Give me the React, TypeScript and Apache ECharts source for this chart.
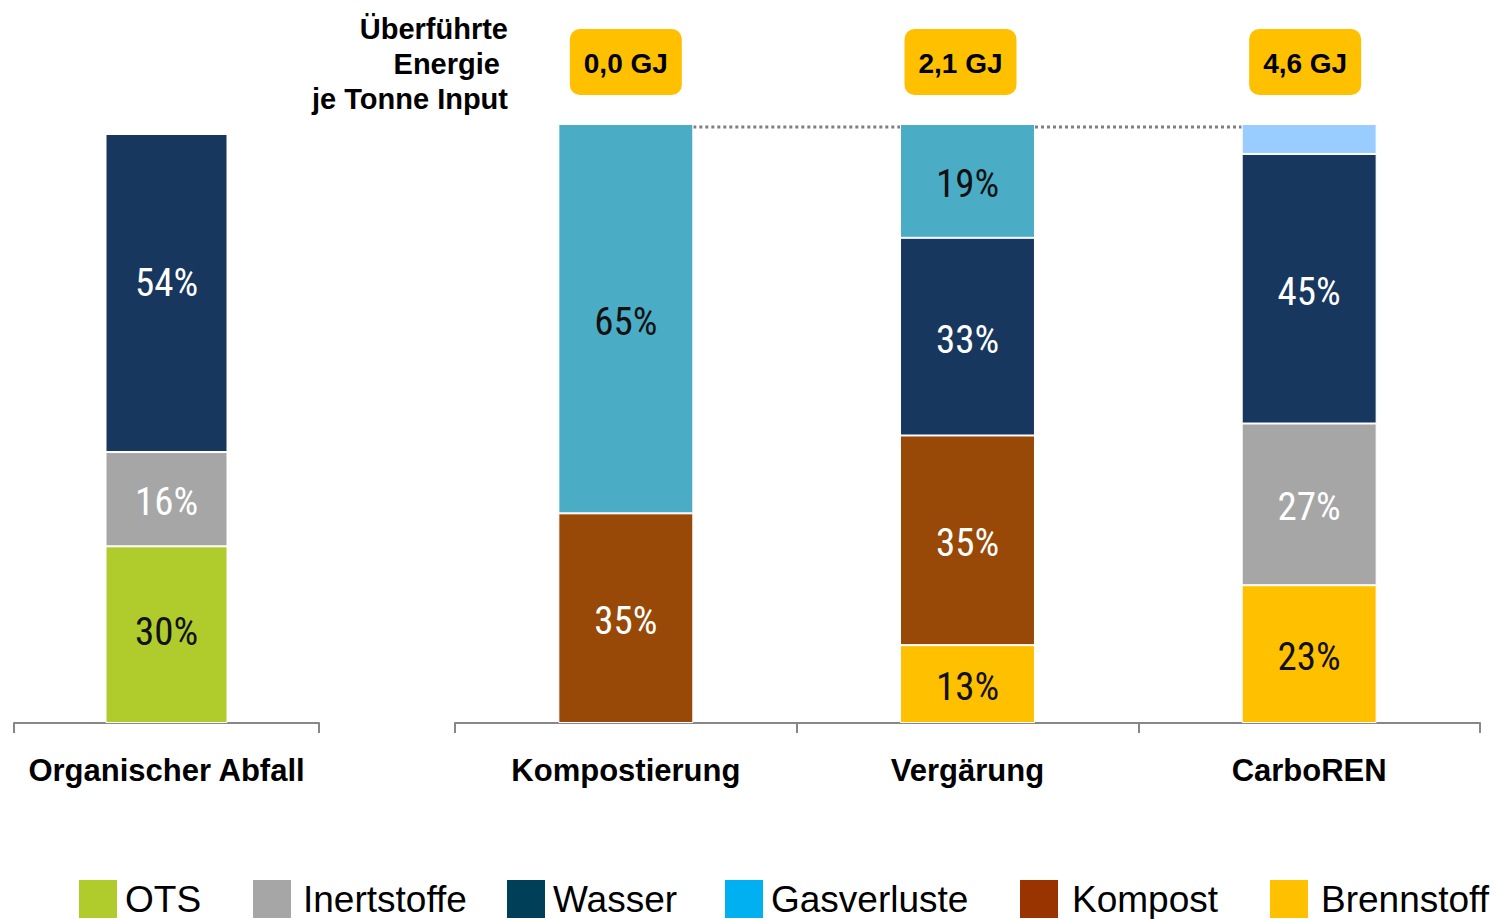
import React, { useEffect, useRef } from "react";
import * as echarts from "echarts";

const LEFT_CATEGORIES = ["Organischer Abfall"];
const RIGHT_CATEGORIES = ["Kompostierung", "Vergärung", "CarboREN"];

// left bar (Organischer Abfall)
const LEFT_OTS = [30];
const LEFT_INERT = [16];
const LEFT_WASSER = [54];

// right bars: Kompostierung, Vergärung, CarboREN
const RIGHT_BRENNSTOFF = [null, 13, 23];
const RIGHT_INERT = [null, null, 27];
const RIGHT_KOMPOST = [35, 35, null];
const RIGHT_WASSER = [null, 33, 45];
const RIGHT_GAS = [65, 19, 5];

const ENERGY_LABELS = ["0,0 GJ", "2,1 GJ", "4,6 GJ"];
const ENERGY_BOX_DX = [0, -7, -4];
const ENERGY_TITLE = "Überführte\nEnergie \nje Tonne Input";

const LEGEND_NAMES = ["OTS", "Inertstoffe", "Wasser", "Gasverluste", "Kompost", "Brennstoff"];
const LEGEND_COLORS = ["#AFCB2C", "#A6A6A6", "#003F58", "#00B0F0", "#993300", "#FFC000"];
const LEGEND_LEFT = [77, 251, 505, 723, 1018, 1268];
const LEGEND_TEXT_GAP = [2, 6, 2, 2, 8, 7];

const BAR_COLORS: Record<string, string> = {
  OTS: "#AFCB2C",
  Inertstoffe: "#A6A6A6",
  Wasser: "#17375E",
  Gasverluste: "#4BACC6",
  Kompost: "#984807",
  Brennstoff: "#FFC000",
};
const GAS_CARBOREN_COLOR = "#99CCFF";

const LABEL_COLORS: Record<string, string> = {
  OTS: "#111",
  Inertstoffe: "#fff",
  Wasser: "#fff",
  Gasverluste: "#111",
  Kompost: "#fff",
  Brennstoff: "#111",
};

const PCT_FONT = "'Liberation Sans Narrow', 'Arial Narrow', 'Roboto Condensed', sans-serif";
const MAIN_FONT = "'Liberation Sans', Arial, sans-serif";

function barSeries(name: string, values: any[], axis: number, stack: string, barWidth: string) {
  return {
    type: "bar",
    name,
    stack,
    xAxisIndex: axis,
    yAxisIndex: axis,
    barWidth,
    itemStyle: { color: BAR_COLORS[name], borderColor: "#fff", borderWidth: 1 },
    label: {
      show: true,
      position: "inside",
      formatter: "{c}%",
      color: LABEL_COLORS[name],
      fontFamily: PCT_FONT,
      fontSize: 39,
      fontWeight: "normal",
      offset: [0, 3],
    },
    data: values.map((v) => (v === null ? "-" : v)),
  };
}

export default function App() {
  const ref = useRef<HTMLDivElement>(null);
  useEffect(() => {
    if (!ref.current) return;
    const chart = echarts.init(ref.current, null, { renderer: "svg" });

    const gasData = RIGHT_GAS.map((v, i) =>
      i === 2
        ? { value: v, itemStyle: { color: GAS_CARBOREN_COLOR }, label: { show: false } }
        : v
    );
    const leftOts = LEFT_OTS.map((v) => ({ value: v, label: { offset: [0, -3] } }));
    const leftWasser = LEFT_WASSER.map((v) => ({ value: v, label: { offset: [0, -10] } }));

    const axisCommon = {
      type: "category",
      axisLine: { show: true, lineStyle: { color: "#878787", width: 2 } },
      axisTick: { show: true, length: 10, lineStyle: { color: "#878787", width: 2 } },
      axisLabel: {
        color: "#000",
        fontSize: 31,
        fontWeight: "bold",
        fontFamily: MAIN_FONT,
        margin: 32,
      },
    };

    const option: any = {
      animation: false,
      grid: [
        { left: 14, width: 305, top: 134, bottom: 196 },
        { left: 455, right: 14, top: 124, bottom: 196 },
      ],
      xAxis: [
        { ...axisCommon, gridIndex: 0, data: LEFT_CATEGORIES },
        { ...axisCommon, gridIndex: 1, data: RIGHT_CATEGORIES },
      ],
      yAxis: [
        { type: "value", gridIndex: 0, min: 0, max: 100, show: false },
        { type: "value", gridIndex: 1, min: 0, max: 100, show: false },
      ],
      legend: LEGEND_NAMES.map((n, i) => ({
        data: [{ name: n, itemStyle: { color: LEGEND_COLORS[i] } }],
        left: LEGEND_LEFT[i],
        top: 878,
        itemWidth: 40,
        itemHeight: 40,
        icon: "rect",
        selectedMode: false,
        textStyle: {
          fontSize: 37,
          color: "#000",
          fontFamily: MAIN_FONT,
          padding: [0, 0, 0, LEGEND_TEXT_GAP[i]],
        },
        padding: 0,
      })),
      graphic: [
        {
          type: "text",
          style: {
            text: ENERGY_TITLE,
            x: 508,
            y: 11,
            textAlign: "right",
            textVerticalAlign: "top",
            fontSize: 29,
            fontWeight: "bold",
            fontFamily: MAIN_FONT,
            lineHeight: 35,
            fill: "#000",
          },
        },
      ],
      series: [
        { ...barSeries("OTS", LEFT_OTS, 0, "left", "40%"), data: leftOts },
        barSeries("Inertstoffe", LEFT_INERT, 0, "left", "40%"),
        { ...barSeries("Wasser", LEFT_WASSER, 0, "left", "40%"), data: leftWasser },
        barSeries("Brennstoff", RIGHT_BRENNSTOFF, 1, "right", "39.5%"),
        barSeries("Inertstoffe", RIGHT_INERT, 1, "right", "39.5%"),
        barSeries("Kompost", RIGHT_KOMPOST, 1, "right", "39.5%"),
        barSeries("Wasser", RIGHT_WASSER, 1, "right", "39.5%"),
        { ...barSeries("Gasverluste", RIGHT_GAS, 1, "right", "39.5%"), data: gasData },
        {
          type: "custom",
          name: "connectors",
          xAxisIndex: 1,
          yAxisIndex: 1,
          clip: false,
          silent: true,
          encode: { x: 0, y: 1 },
          data: [
            [0, 100],
            [1, 100],
          ],
          renderItem: (params: any, api: any) => {
            const i = api.value(0);
            const p1 = api.coord([i, 100]);
            const p2 = api.coord([i + 1, 100]);
            const half = (api.size([1, 0])[0] * 0.395) / 2;
            return {
              type: "line",
              shape: { x1: p1[0] + half, y1: p1[1] + 3, x2: p2[0] - half, y2: p2[1] + 3 },
              style: { stroke: "#7F7F7F", lineWidth: 3, lineDash: [3, 3] },
            };
          },
        },
        {
          type: "custom",
          name: "energy",
          xAxisIndex: 1,
          yAxisIndex: 1,
          clip: false,
          silent: true,
          encode: { x: 0, y: 1 },
          data: ENERGY_LABELS.map((_, i) => [i, 100]),
          renderItem: (params: any, api: any) => {
            const p = api.coord([api.value(0), 100]);
            const cx = p[0] + ENERGY_BOX_DX[params.dataIndex];
            return {
              type: "group",
              children: [
                {
                  type: "rect",
                  shape: { x: cx - 56, y: p[1] - 95, width: 112, height: 66, r: 10 },
                  style: { fill: "#FFC000" },
                },
                {
                  type: "text",
                  style: {
                    text: ENERGY_LABELS[params.dataIndex],
                    x: cx,
                    y: p[1] - 61,
                    textAlign: "center",
                    textVerticalAlign: "middle",
                    fontSize: 28,
                    fontWeight: "bold",
                    fontFamily: MAIN_FONT,
                    fill: "#000",
                  },
                },
              ],
            };
          },
        },
      ],
    };
    chart.setOption(option);
    return () => chart.dispose();
  }, []);
  return (
    <div
      ref={ref}
      style={{ position: "fixed", left: 0, top: 0, width: 1494, height: 919, background: "#fff" }}
    />
  );
}
